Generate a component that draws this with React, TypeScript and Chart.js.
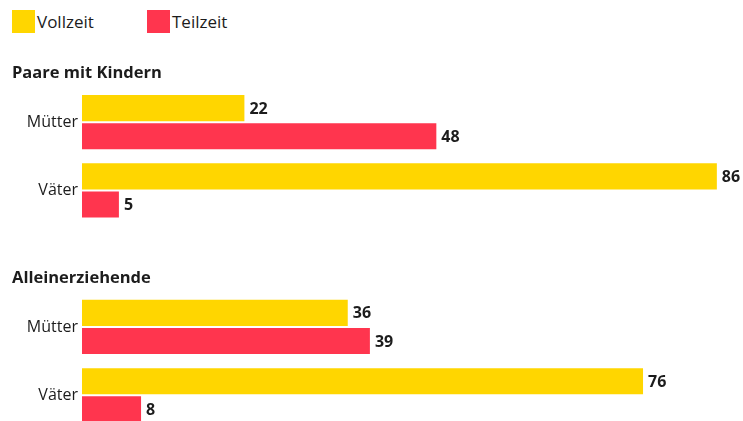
import React, { useEffect, useRef } from "react";
import { Chart, registerables } from "chart.js";

Chart.register(...registerables);

const categories = ["Mütter", "Väter", "", "Mütter", "Väter"];
const groupTitles = ["Paare mit Kindern", "Alleinerziehende"];
const groupStartIndex = [0, 3];
const seriesNames = ["Vollzeit", "Teilzeit"];
const vollzeit = [22, 86, null, 36, 76];
const teilzeit = [48, 5, null, 39, 8];

const YELLOW = "#FFD600";
const RED = "#FF354E";
const TEXT = "#1c1c1c";
const FONT = "'Open Sans', 'Noto Sans', sans-serif";

export default function App() {
  const ref = useRef<HTMLCanvasElement | null>(null);

  useEffect(() => {
    if (!ref.current) return;
    const valuePlugin = {
      id: "valueLabels",
      afterDatasetsDraw(chart: any) {
        const ctx = chart.ctx;
        ctx.save();
        ctx.font = `bold 16px ${FONT}`;
        ctx.fillStyle = TEXT;
        ctx.textAlign = "left";
        ctx.textBaseline = "middle";
        chart.data.datasets.forEach((ds: any, di: number) => {
          const meta = chart.getDatasetMeta(di);
          meta.data.forEach((el: any, i: number) => {
            const v = ds.data[i];
            if (v == null) return;
            ctx.fillText(String(v), el.x + 5, el.y + 1);
          });
        });
        const y = chart.scales.y;
        ctx.font = `bold 16.5px ${FONT}`;
        groupTitles.forEach((t, gi) => {
          const py = y.getPixelForValue(groupStartIndex[gi]) - 49;
          ctx.fillText(t, 12, py);
        });
        ctx.restore();
      },
    };

    const chart = new Chart(ref.current, {
      type: "bar",
      data: {
        labels: categories,
        datasets: [
          {
            label: seriesNames[0],
            data: vollzeit as any,
            backgroundColor: YELLOW,
            categoryPercentage: 56 / 68,
            barPercentage: 26 / 28,
          },
          {
            label: seriesNames[1],
            data: teilzeit as any,
            backgroundColor: RED,
            categoryPercentage: 56 / 68,
            barPercentage: 26 / 28,
          },
        ],
      },
      options: {
        indexAxis: "y",
        animation: false,
        responsive: false,
        maintainAspectRatio: false,
        layout: { padding: { top: 88, bottom: 2, left: 0, right: 4 } },
        plugins: {
          legend: { display: false },
          tooltip: { enabled: false },
        },
        scales: {
          x: {
            display: false,
            min: 0,
            max: 89,
          },
          y: {
            grid: { display: false, drawTicks: false, tickLength: 0 },
            border: { display: false },
            ticks: {
              padding: 4,
              color: TEXT,
              font: { family: FONT, size: 16 },
            },
            afterFit(scale: any) {
              scale.width = 82;
            },
          },
        },
      },
      plugins: [valuePlugin],
    });
    return () => chart.destroy();
  }, []);

  const legendItem = (label: string, color: string, left: number) => (
    <div
      style={{
        position: "absolute",
        left,
        top: 10,
        height: 23,
        display: "flex",
        alignItems: "center",
        fontFamily: FONT,
        fontSize: 17,
        color: TEXT,
        whiteSpace: "nowrap",
      }}
    >
      <span style={{ display: "inline-block", width: 23, height: 23, background: color, marginRight: 2 }} />
      <span>{label}</span>
    </div>
  );

  return (
    <div style={{ position: "absolute", left: 0, top: 0, width: 743, height: 443, background: "#fff" }}>
      {legendItem(seriesNames[0], YELLOW, 12)}
      {legendItem(seriesNames[1], RED, 147)}
      <canvas ref={ref} width={743} height={443} style={{ position: "absolute", left: 0, top: 0 }} />
    </div>
  );
}
